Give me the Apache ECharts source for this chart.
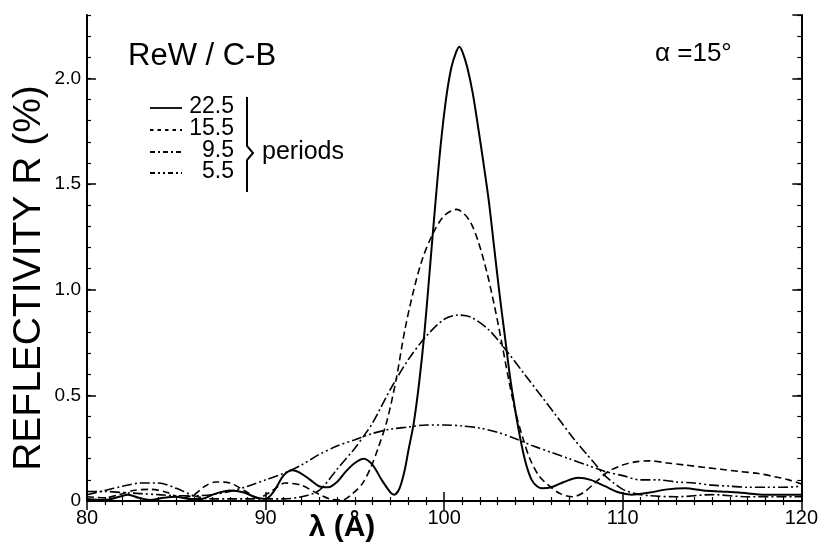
<!DOCTYPE html>
<html>
<head>
<meta charset="utf-8">
<script src="https://cdn.jsdelivr.net/npm/echarts@6.0.0/dist/echarts.min.js"></script>
<style>
  html, body { margin: 0; padding: 0; background: #fff; }
  #chart { width: 821px; height: 542px; }
</style>
</head>
<body>
<div id="chart"></div>
<script>
// wavelength (Å) / reflectivity (%), one pair of arrays per curve
const lam22 = [80, 81, 81.8, 82.3, 82.9, 83.5, 84.3, 85, 85.7, 86.4, 87.2, 88, 88.8, 89.5, 90, 90.5, 91, 91.5, 92, 92.5, 93, 93.5, 94, 94.5, 95, 95.5, 96, 96.5, 97, 97.2, 97.5, 97.8, 98, 98.3, 98.6, 98.9, 99.2, 99.5, 99.8, 100.1, 100.4, 100.65, 100.85, 101.05, 101.3, 101.6, 101.9, 102.2, 102.5, 102.8, 103.1, 103.4, 103.7, 104, 104.3, 104.6, 104.9, 105.2, 105.5, 106, 106.7, 107.5, 108.2, 109, 109.8, 110.5, 111.5, 112.5, 113.5, 114.5, 115.5, 116.5, 118, 120];
const r22 = [0.01, 0.005, 0.02, 0.03, 0.015, 0.005, 0.015, 0.02, 0.01, 0.01, 0.035, 0.05, 0.04, 0.015, 0.01, 0.05, 0.12, 0.145, 0.13, 0.1, 0.07, 0.065, 0.09, 0.14, 0.18, 0.2, 0.17, 0.1, 0.04, 0.03, 0.06, 0.15, 0.24, 0.37, 0.56, 0.8, 1.1, 1.4, 1.68, 1.9, 2.05, 2.12, 2.15, 2.12, 2.05, 1.93, 1.77, 1.6, 1.42, 1.2, 0.98, 0.78, 0.58, 0.42, 0.28, 0.17, 0.1, 0.07, 0.06, 0.065, 0.09, 0.11, 0.1, 0.07, 0.04, 0.03, 0.04, 0.055, 0.06, 0.05, 0.045, 0.04, 0.03, 0.03];

const lam15 = [80, 81, 81.8, 82.6, 83.6, 84.5, 85.3, 86, 86.6, 87.2, 88, 88.8, 89.6, 90.3, 91.1, 92, 92.8, 93.6, 94.3, 94.8, 95.4, 95.9, 96.3, 96.8, 97.3, 97.8, 98.3, 98.8, 99.4, 100, 100.7, 101.4, 101.9, 102.4, 102.8, 103.2, 103.6, 104, 104.4, 104.8, 105.3, 105.9, 106.5, 107.2, 107.8, 108.5, 109.2, 110, 110.7, 111.5, 112.5, 113.5, 114.5, 115.5, 116.5, 117.6, 118.5, 119.3, 120];
const r15 = [0.02, 0.015, 0.03, 0.05, 0.055, 0.04, 0.015, 0.03, 0.07, 0.09, 0.085, 0.05, 0.015, 0.045, 0.085, 0.075, 0.04, 0.01, 0.005, 0.03, 0.08, 0.16, 0.25, 0.38, 0.57, 0.81, 1.0, 1.15, 1.27, 1.35, 1.38, 1.33, 1.23, 1.08, 0.93, 0.76, 0.58, 0.42, 0.3, 0.2, 0.12, 0.07, 0.035, 0.02, 0.04, 0.09, 0.14, 0.17, 0.185, 0.19, 0.18, 0.17, 0.16, 0.15, 0.14, 0.13, 0.115, 0.1, 0.08];

const lam9 = [80, 81, 82, 83, 84, 85, 86, 87, 88, 89, 90, 91, 92, 93, 94, 95, 95.6, 96, 97, 98, 99, 100, 100.8, 101.5, 102.5, 103.5, 104.5, 105.5, 106.4, 107.3, 108, 108.5, 109, 109.5, 110, 110.7, 111.5, 113, 115, 117, 120];
const r9 = [0.03, 0.05, 0.07, 0.085, 0.085, 0.06, 0.025, 0.01, 0.01, 0.01, 0.01, 0.01, 0.02, 0.05, 0.15, 0.25, 0.32, 0.37, 0.53, 0.67, 0.78, 0.86, 0.88, 0.87, 0.81, 0.71, 0.6, 0.49, 0.39, 0.29, 0.22, 0.17, 0.12, 0.085, 0.055, 0.035, 0.025, 0.02, 0.03, 0.02, 0.02];

const lam5 = [80, 81, 82, 83, 84, 85, 86, 87, 88, 89, 90, 91, 92, 93, 94, 95, 96, 97, 98, 99, 100, 101, 102, 103, 104, 105, 106, 107, 108, 109, 110, 111, 112, 113, 114, 115, 116, 117, 118, 119, 120];
const r5 = [0.045, 0.045, 0.04, 0.035, 0.03, 0.025, 0.025, 0.03, 0.045, 0.07, 0.1, 0.13, 0.17, 0.22, 0.26, 0.29, 0.32, 0.34, 0.35, 0.36, 0.36, 0.355, 0.345, 0.325, 0.295, 0.26, 0.23, 0.2, 0.17, 0.14, 0.12, 0.1, 0.1, 0.09, 0.085, 0.075, 0.07, 0.065, 0.065, 0.065, 0.07];

const periods = ['22.5', '15.5', '9.5', '5.5'];
const dashes = [null, [7, 4], [10, 3, 2, 3], [10, 3, 2, 3, 2, 3]];
const xTicks = [80, 90, 100, 110, 120];

const FONT = '"Liberation Sans", Arial, sans-serif';
const pairs = (xs, ys) => xs.map((x, i) => [x, ys[i]]);

const chart = echarts.init(document.getElementById('chart'));

function xAx(pos) {
  return {
    type: 'value', min: xTicks[0], max: xTicks[xTicks.length - 1], interval: 10, position: pos,
    axisLine: { show: true, lineStyle: { color: '#000', width: 2 } },
    axisTick: { inside: true, length: 9, lineStyle: { color: '#000', width: 1.5 } },
    minorTick: { show: true, splitNumber: 10, length: 4, lineStyle: { color: '#000', width: 1.2 } },
    splitLine: { show: false },
    axisLabel: pos === 'bottom'
      ? { color: '#000', fontSize: 20, fontFamily: FONT, margin: 7 }
      : { show: false },
  };
}

function yAx(pos, interval, major) {
  return {
    type: 'value', min: 0, max: 2.3, interval: interval, position: pos,
    axisLine: { show: major, lineStyle: { color: '#000', width: 2 } },
    axisTick: { inside: true, length: major ? 9 : 4, lineStyle: { color: '#000', width: major ? 1.5 : 1.2 } },
    splitLine: { show: false },
    axisLabel: (pos === 'left' && major)
      ? { color: '#000', fontSize: 19, fontFamily: FONT, margin: 6, showMaxLabel: false,
          formatter: v => v === 0 ? '0' : v.toFixed(1) }
      : { show: false },
  };
}

const curves = [pairs(lam22, r22), pairs(lam15, r15), pairs(lam9, r9), pairs(lam5, r5)];

const series = curves.map((d, i) => ({
  name: periods[i],
  type: 'line',
  data: d,
  smooth: 0.3,
  symbol: 'none',
  xAxisIndex: 0,
  yAxisIndex: 0,
  lineStyle: { color: '#000', width: i === 0 ? 2 : 1.6, type: dashes[i] || 'solid' },
  z: 3,
}));

// hand-drawn style legend + labels
const legendRows = [107, 129, 151, 172];
const graphic = [
  { type: 'text', x: 29, y: 278, rotation: Math.PI / 2,
    style: { text: 'REFLECTIVITY R (%)', font: '39px ' + FONT, fill: '#000', align: 'center', verticalAlign: 'middle' } },
  { type: 'text', x: 342, y: 528,
    style: { text: 'λ (Å)', font: 'bold 30px ' + FONT, fill: '#000', align: 'center', verticalAlign: 'middle' } },
  { type: 'text', x: 128, y: 56,
    style: { text: 'ReW / C-B', font: '31px ' + FONT, fill: '#000', align: 'left', verticalAlign: 'middle' } },
  { type: 'text', x: 655, y: 54,
    style: { text: 'α =15°', font: '26px ' + FONT, fill: '#000', align: 'left', verticalAlign: 'middle' } },
  { type: 'text', x: 262, y: 152,
    style: { text: 'periods', font: '25px ' + FONT, fill: '#000', align: 'left', verticalAlign: 'middle' } },
  { type: 'polyline', shape: { points: [[247, 97], [247, 146], [253, 153], [247, 160], [247, 192]] },
    style: { stroke: '#000', lineWidth: 2, fill: null } },
];
legendRows.forEach((y, i) => {
  graphic.push({ type: 'line', shape: { x1: 150, y1: y + 1, x2: 182, y2: y + 1 },
    style: { stroke: '#000', lineWidth: 1.8, lineDash: dashes[i] ? [dashes[i][0] * 0.5].concat(dashes[i].slice(1)) : null } });
  graphic.push({ type: 'text', x: 234, y: y,
    style: { text: periods[i], font: '23px ' + FONT, fill: '#000', align: 'right', verticalAlign: 'middle' } });
});

chart.setOption({
  animation: false,
  backgroundColor: '#fff',
  grid: { left: 87, right: 18, top: 15, bottom: 41, containLabel: false },
  xAxis: [xAx('bottom'), xAx('top')],
  yAxis: [yAx('left', 0.5, true), yAx('left', 0.1, false), yAx('right', 0.5, true), yAx('right', 0.1, false)],
  series: series,
  graphic: graphic,
});
</script>
</body>
</html>
